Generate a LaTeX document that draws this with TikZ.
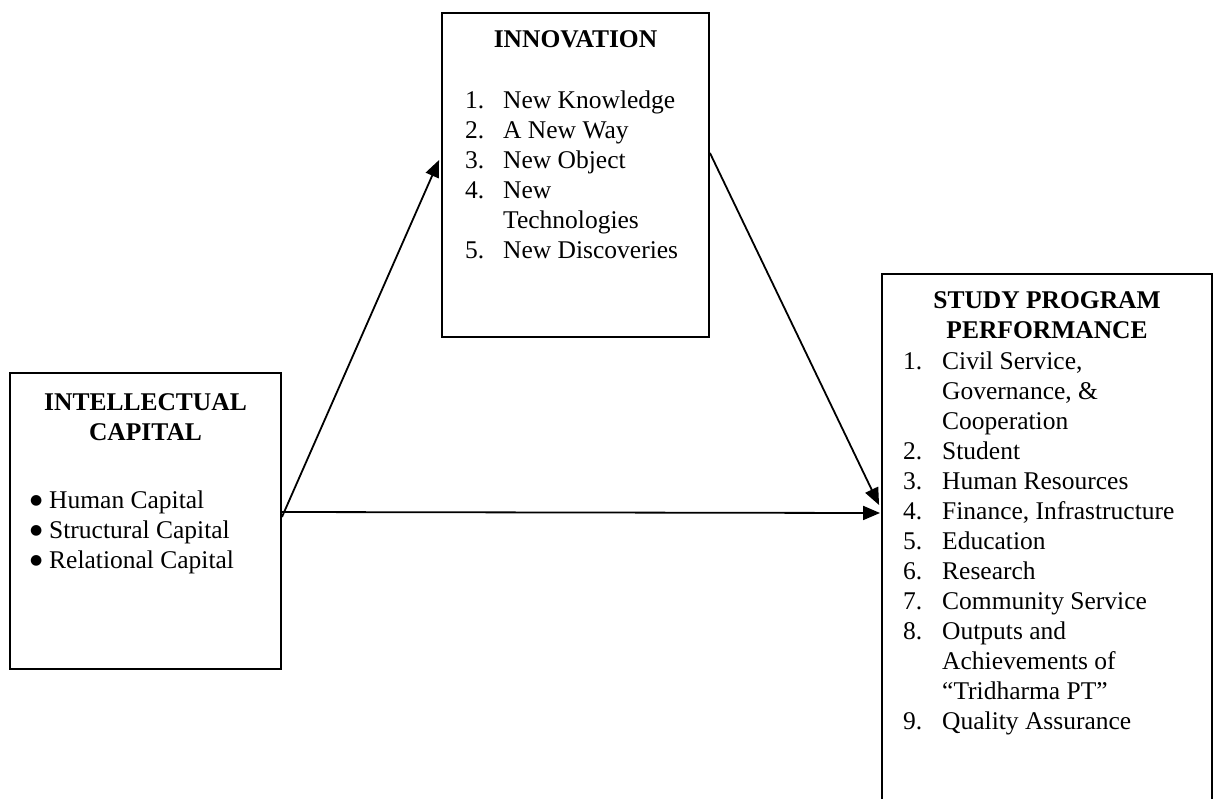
\documentclass[tikz,border=0pt]{standalone}
\usepackage{fontspec}
\setmainfont{Liberation Serif}
\newfontfamily\dotfont{DejaVu Sans}
\usetikzlibrary{arrows.meta,calc}
\newcommand{\bigdot}{{\dotfont\fontsize{14}{14}\selectfont\raisebox{3.5pt}{●}}}
\begin{document}
\begin{tikzpicture}[x=1pt,y=-1pt,
  frame/.style={draw=black, line width=1.9pt, rectangle, inner sep=0pt},
  link/.style={draw=black, line width=1.8pt, -{Triangle[length=17pt,width=14pt]}},
  head/.style={anchor=base, inner sep=0pt, font=\fontsize{25.5}{30}\selectfont\bfseries},
  items/.style={anchor=base west, inner sep=0pt, font=\fontsize{25.5}{30}\selectfont}]
\clip (0,0) rectangle (1214,798);
\fill[white] (0,0) rectangle (1214,798);

% the three boxes
\node[frame, minimum width=271pt, minimum height=296pt] (ic)  at (145.5,521) {};
\node[frame, minimum width=267pt, minimum height=324pt] (inn) at (575.5,175) {};
\node[frame, minimum width=330pt, minimum height=556pt] (spp) at (1047,552) {};

% intellectual capital
\node[head] (icHead) at (145.5,410) {\begin{tabular}[t]{@{}c@{}}INTELLECTUAL\\ CAPITAL\end{tabular}};
\node[items] (icList) at (30,508) {\begin{tabular}[t]{@{}p{19pt}@{}l@{}}
\bigdot & Human Capital\\
\bigdot & Structural Capital\\
\bigdot & Relational Capital
\end{tabular}};

% innovation
\node[head] (innHead) at (575.5,47) {INNOVATION};
\node[items] (innList) at (465,108) {\begin{tabular}[t]{@{}p{38pt}@{}l@{}}
1. & New Knowledge\\
2. & A New Way\\
3. & New Object\\
4. & New\\
   & Technologies\\
5. & New Discoveries
\end{tabular}};

% study program performance
\node[head] (sppHead) at (1047,308) {\begin{tabular}[t]{@{}c@{}}STUDY PROGRAM\\ PERFORMANCE\end{tabular}};
\node[items] (sppList) at (903,369) {\begin{tabular}[t]{@{}p{39pt}@{}l@{}}
1. & Civil Service,\\
   & Governance, \&\\
   & Cooperation\\
2. & Student\\
3. & Human Resources\\
4. & Finance, Infrastructure\\
5. & Education\\
6. & Research\\
7. & Community Service\\
8. & Outputs and\\
   & Achievements of\\
   & “Tridharma PT”\\
9. & Quality Assurance
\end{tabular}};

% relations
\draw[link] ($(ic.east)+(0,-4)$) -- ($(inn.west)+(-2,-15)$);
\draw[link] ($(ic.east)+(0,-9)$) -- ($(spp.west)+(-1,-39)$);
\draw[link] ($(inn.east)+(0,-22)$) -- ($(spp.west)+(-2,-47)$);
\end{tikzpicture}
\end{document}
